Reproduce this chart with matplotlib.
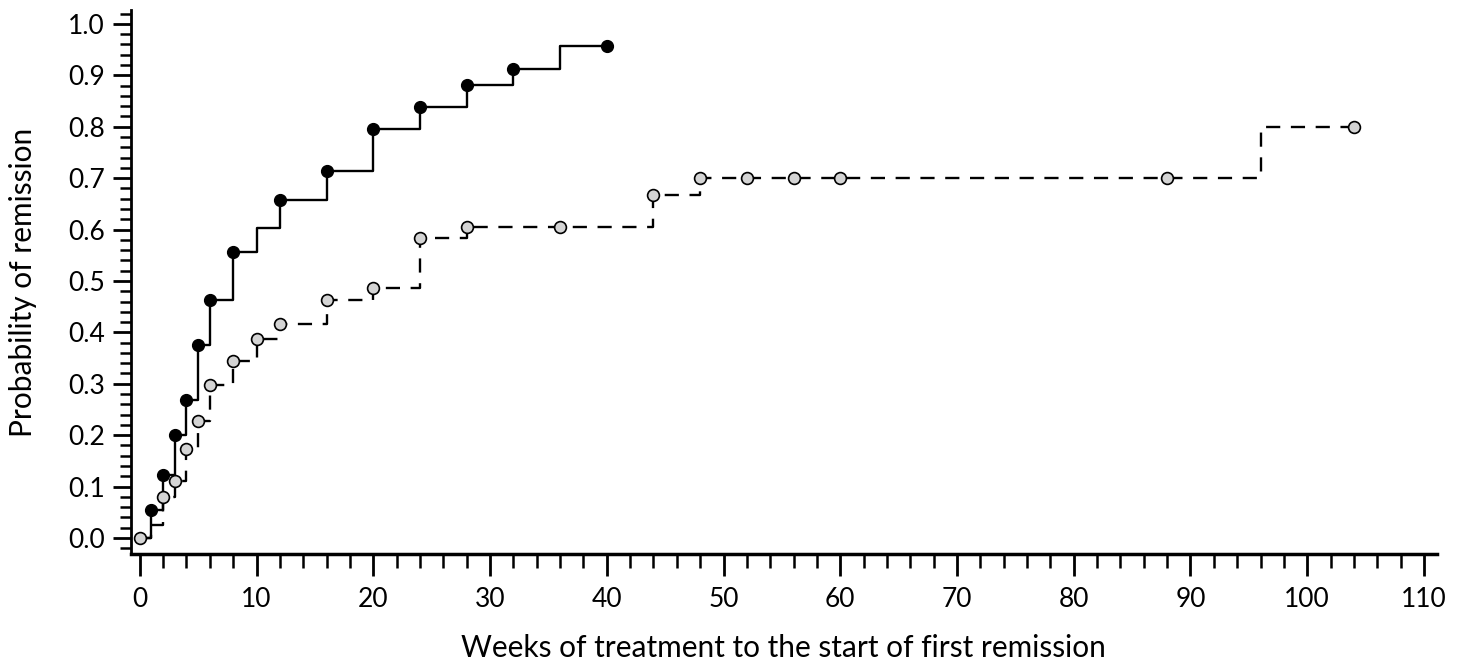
import numpy as np
import matplotlib.pyplot as plt
from matplotlib.ticker import MultipleLocator, FormatStrFormatter

plt.rcParams['font.family'] = ['Lato', 'DejaVu Sans']

# solid curve (filled markers)
weeks_a = [0, 1, 2, 3, 4, 5, 6, 8, 10, 12, 16, 20, 24, 28, 32, 36, 40]
prob_a = [0.0, 0.054, 0.122, 0.20, 0.268, 0.375, 0.463, 0.556, 0.603, 0.658,
          0.713, 0.795, 0.838, 0.882, 0.912, 0.957, 0.957]
marks_a = [1, 2, 3, 4, 5, 6, 8, 12, 16, 20, 24, 28, 32, 40]

# dashed curve (open markers)
weeks_b = [0, 1, 2, 3, 4, 5, 6, 8, 10, 12, 16, 20, 24, 28, 36, 44, 48, 52,
           56, 60, 88, 96, 104]
prob_b = [0.0, 0.025, 0.08, 0.11, 0.173, 0.227, 0.297, 0.345, 0.387, 0.417,
          0.463, 0.486, 0.584, 0.605, 0.605, 0.668, 0.70, 0.70, 0.70, 0.70,
          0.70, 0.80, 0.80]
marks_b = [0, 2, 3, 4, 5, 6, 8, 10, 12, 16, 20, 24, 28, 36, 44, 48, 52, 56,
           60, 88, 104]

fig = plt.figure(figsize=(14.59, 6.69), dpi=100)
ax = fig.add_axes([0.0898, 0.172, 0.895, 0.813])

ax.step(weeks_a, prob_a, where='post', color='black', lw=1.7)
ya = [prob_a[weeks_a.index(w)] for w in marks_a]
ax.plot(marks_a, ya, 'o', ms=8.5, mfc='black', mec='black', ls='none')

ax.step(weeks_b, prob_b, where='post', color='black', lw=1.7, dashes=(6, 4.5))
yb = [prob_b[weeks_b.index(w)] for w in marks_b]
ax.plot(marks_b, yb, 'o', ms=8.5, mfc='#d4d4d4', mec='black', mew=1.2, ls='none')

ax.set_xlim(-0.75, 111.1)
ax.set_ylim(-0.031, 1.027)

ax.spines['top'].set_visible(False)
ax.spines['right'].set_visible(False)
ax.spines['left'].set_linewidth(2)
ax.spines['bottom'].set_linewidth(2.5)

ax.xaxis.set_major_locator(MultipleLocator(10))
ax.xaxis.set_minor_locator(MultipleLocator(2))
ax.yaxis.set_major_locator(MultipleLocator(0.1))
ax.yaxis.set_minor_locator(MultipleLocator(0.02))
ax.yaxis.set_major_formatter(FormatStrFormatter('%.1f'))

ax.tick_params(axis='x', which='major', length=16, width=2, labelsize=19, pad=8)
ax.tick_params(axis='x', which='minor', length=10, width=1.8)
ax.tick_params(axis='y', which='major', length=13, width=2, labelsize=19, pad=6)
ax.tick_params(axis='y', which='minor', length=8, width=1.8)

ax.set_xlabel('Weeks of treatment to the start of first remission', fontsize=21.5, labelpad=16)
ax.set_ylabel('Probability of remission', fontsize=21.5, labelpad=22)

fig.savefig('out.png', dpi=100)
